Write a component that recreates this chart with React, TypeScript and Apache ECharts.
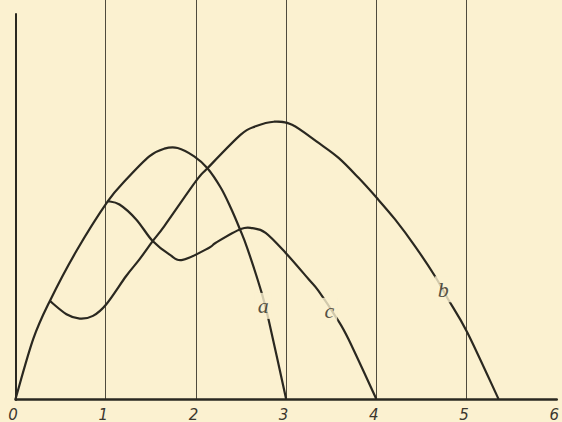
import React, { useEffect, useRef } from "react";
import * as echarts from "echarts";

const xTicks = [0, 1, 2, 3, 4, 5, 6];

const curveA: [number, number][] = [
  [0, 0], [0.196, 0.662], [0.381, 1.085], [0.675, 1.637], [1.024, 2.189],
  [1.227, 2.428], [1.483, 2.685], [1.65, 2.77], [1.797, 2.778], [1.981, 2.685],
  [2.128, 2.553], [2.276, 2.337], [2.386, 2.116], [2.489, 1.876], [2.57, 1.667],
  [2.717, 1.214], [2.809, 0.864], [3.0, 0],
];

const curveB: [number, number][] = [
  [0.381, 1.085], [0.565, 0.938], [0.712, 0.89], [0.859, 0.92], [1.007, 1.049],
  [1.227, 1.361], [1.374, 1.545], [1.521, 1.747], [1.65, 1.913], [2.0, 2.41],
  [2.128, 2.553], [2.497, 2.925], [2.662, 3.017], [2.864, 3.068], [3.066, 3.035],
  [3.361, 2.833], [3.582, 2.668], [3.803, 2.447], [4.004, 2.226], [4.208, 1.987],
  [4.428, 1.692], [4.649, 1.361], [4.796, 1.104], [5.009, 0.737], [5.355, 0],
];

const curveC: [number, number][] = [
  [1.024, 2.189], [1.153, 2.152], [1.338, 1.987], [1.521, 1.747], [1.705, 1.6],
  [1.852, 1.539], [2.147, 1.674], [2.221, 1.729], [2.497, 1.88], [2.625, 1.89],
  [2.773, 1.839], [2.993, 1.619], [3.25, 1.325], [3.359, 1.197], [3.563, 0.89],
  [3.692, 0.66], [4.0, 0],
];

const curveNames = ["a", "b", "c"];
const curveList = [curveA, curveB, curveC];
const labelPositions: [number, number][] = [
  [2.746, 1.03],
  [4.741, 1.214],
  [3.479, 0.975],
];

const BG = "#fbf1d0";
const INK = "#2a2820";

function catmullRomPath(pts: number[][]): string {
  if (pts.length < 2) return "";
  let d = `M${pts[0][0]},${pts[0][1]}`;
  for (let i = 0; i < pts.length - 1; i++) {
    const p0 = pts[i - 1] || pts[i];
    const p1 = pts[i];
    const p2 = pts[i + 1];
    const p3 = pts[i + 2] || pts[i + 1];
    const c1x = p1[0] + (p2[0] - p0[0]) / 6;
    const c1y = p1[1] + (p2[1] - p0[1]) / 6;
    const c2x = p2[0] - (p3[0] - p1[0]) / 6;
    const c2y = p2[1] - (p3[1] - p1[1]) / 6;
    d += ` C${c1x},${c1y} ${c2x},${c2y} ${p2[0]},${p2[1]}`;
  }
  return d;
}

export default function App() {
  const ref = useRef<HTMLDivElement>(null);
  useEffect(() => {
    if (!ref.current) return;
    document.body.style.margin = "0";
    const chart = echarts.init(ref.current, undefined, { renderer: "svg" });
    chart.setOption({
      animation: false,
      backgroundColor: BG,
      grid: [
        { left: 15.5, right: 2.9, top: 0, bottom: 22 },
        { left: 15.5, right: 2.9, top: 14, bottom: 22 },
      ],
      xAxis: [
        {
          type: "value",
          gridIndex: 0,
          min: 0,
          max: 6,
          interval: 1,
          axisLine: { show: true, lineStyle: { color: INK, width: 2.5 } },
          axisTick: { show: false },
          axisLabel: {
            show: true,
            color: "#3a372e",
            fontStyle: "italic",
            fontFamily: "DejaVu Sans",
            fontSize: 15,
            margin: 8,
            padding: [0, 5, 0, 0],
            formatter: (v: number) => (xTicks.includes(v) ? String(v) : ""),
          },
          splitLine: {
            show: true,
            showMinLine: false,
            showMaxLine: false,
            lineStyle: { color: "#4f4b3d", width: 1 },
          },
        },
        {
          type: "value",
          gridIndex: 1,
          min: 0,
          max: 6,
          show: false,
        },
      ],
      yAxis: [
        {
          type: "value",
          gridIndex: 0,
          min: 0,
          max: 4.415,
          axisLine: { show: false },
          axisTick: { show: false },
          axisLabel: { show: false },
          splitLine: { show: false },
        },
        {
          type: "value",
          gridIndex: 1,
          min: 0,
          max: 4.26,
          axisLine: { show: true, lineStyle: { color: INK, width: 2 } },
          axisTick: { show: false },
          axisLabel: { show: false },
          splitLine: { show: false },
        },
      ],
      series: [
        {
          type: "custom",
          xAxisIndex: 0,
          yAxisIndex: 0,
          z: 3,
          data: curveList.map((c, i) => ({ name: curveNames[i], value: c[0] })),
          renderItem: (params: any, api: any) => {
            const pts = curveList[params.dataIndex].map((p) => api.coord(p));
            return {
              type: "path",
              shape: { pathData: catmullRomPath(pts) },
              style: { stroke: INK, lineWidth: 2.2, fill: "none" },
            };
          },
        },
        {
          type: "scatter",
          xAxisIndex: 0,
          yAxisIndex: 0,
          symbolSize: 1,
          itemStyle: { color: "rgba(0,0,0,0)" },
          z: 10,
          data: curveNames.map((n, i) => ({ name: n, value: labelPositions[i] })),
          label: {
            show: true,
            position: "inside",
            formatter: "{b}",
            fontFamily: "Liberation Serif",
            fontStyle: "italic",
            fontSize: 22,
            color: INK,
            backgroundColor: BG,
            padding: [1, 3, 3, 3],
          },
        },
      ],
    });
    return () => chart.dispose();
  }, []);
  return (
    <div
      ref={ref}
      style={{ width: 562, height: 422, position: "absolute", left: 0, top: 0 }}
    />
  );
}
